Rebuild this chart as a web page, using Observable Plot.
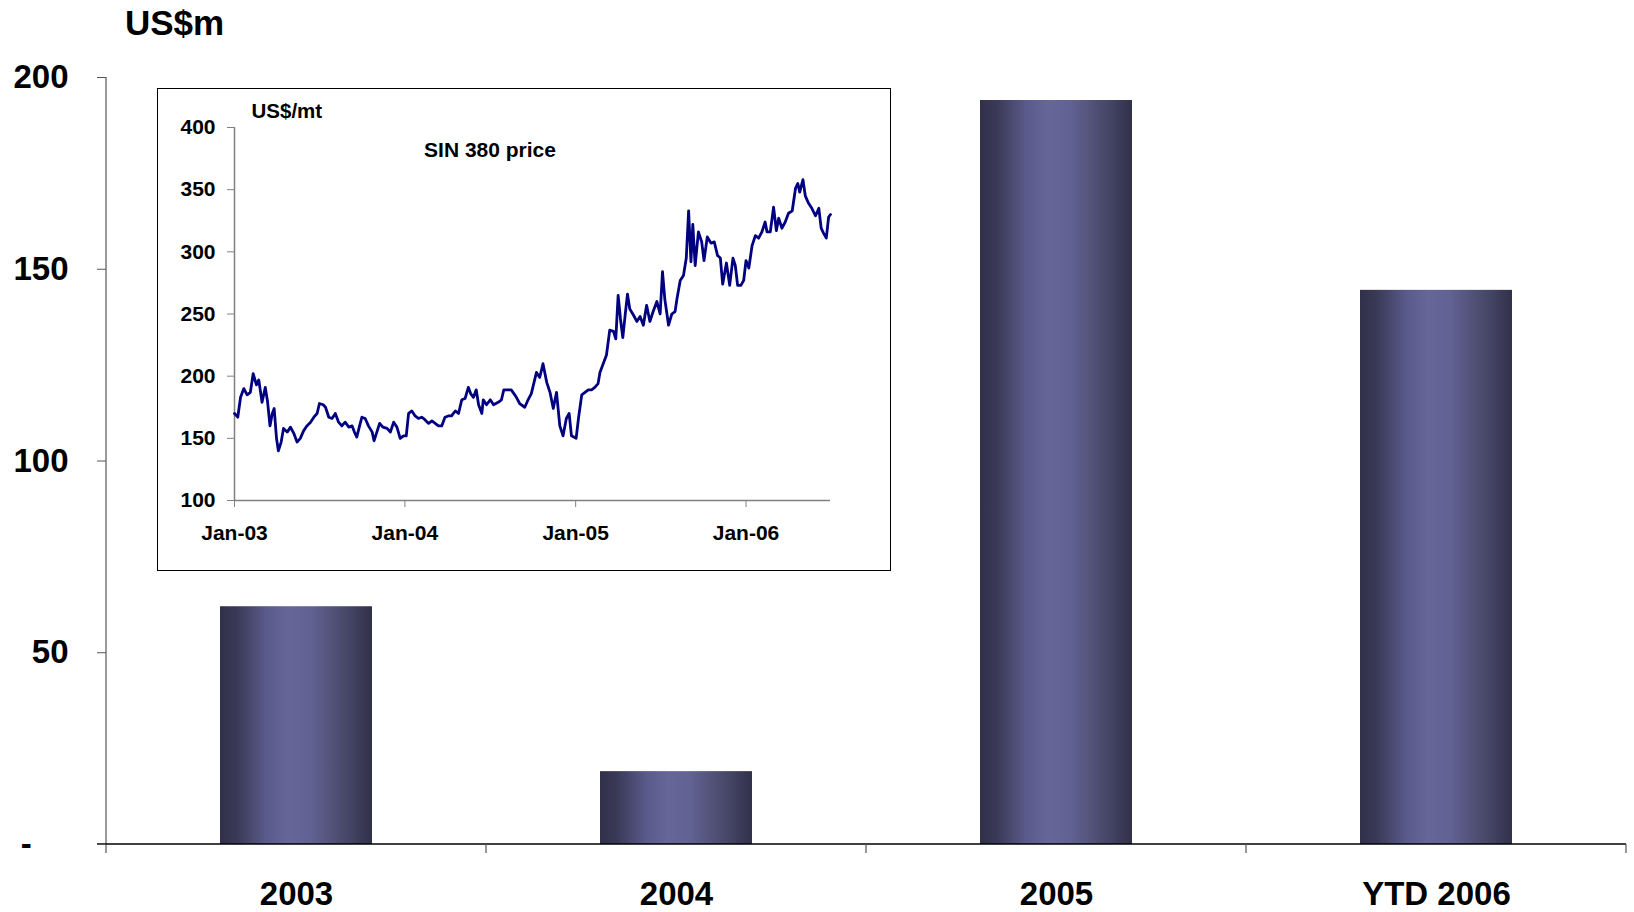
<!DOCTYPE html>
<html><head><meta charset="utf-8">
<script src="https://cdn.jsdelivr.net/npm/d3@7"></script>
<script src="https://cdn.jsdelivr.net/npm/@observablehq/plot@0.6"></script>
<style>
html,body{margin:0;padding:0;background:#fff;}
#wrap{position:relative;width:1634px;height:912px;font-family:"Liberation Sans",Arial,sans-serif;overflow:hidden;}
#main{position:absolute;left:0;top:0;}
#title{position:absolute;left:125px;top:5px;font-size:35px;font-weight:bold;line-height:1;color:#000;}
#inset{position:absolute;left:157px;top:88px;width:734px;height:483px;background:#fff;}
#insetBorder{position:absolute;left:0;top:0;right:0;bottom:0;border:1.5px solid #000;box-sizing:border-box;pointer-events:none;}
</style></head>
<body>
<svg width="0" height="0" style="position:absolute">
  <defs>
    <linearGradient id="barGrad" x1="0" x2="1" y1="0" y2="0">
      <stop offset="0" stop-color="#30304a"/>
      <stop offset="0.12" stop-color="#3b3b59"/>
      <stop offset="0.3" stop-color="#59598a"/>
      <stop offset="0.45" stop-color="#666699"/>
      <stop offset="0.6" stop-color="#616192"/>
      <stop offset="0.8" stop-color="#4b4b6e"/>
      <stop offset="1" stop-color="#31314b"/>
    </linearGradient>
  </defs>
</svg>
<div id="wrap">
  <div id="main"></div>
  <div id="title">US$m</div>
  <div id="inset"><div id="insetBorder"></div></div>
</div>
<script>
// ---- Main bar chart data ----
const categories = ["2003", "2004", "2005", "YTD 2006"];
const earnings = [62, 19, 194, 144.5];
const mainTicks = [0, 50, 100, 150, 200];

// ---- Inset: SIN 380 price (US$/mt) ----
const priceDates = [
  "2003-01-01","2003-01-08","2003-01-14","2003-01-21","2003-01-28","2003-02-04","2003-02-10","2003-02-17","2003-02-22","2003-03-01",
  "2003-03-08","2003-03-13","2003-03-18","2003-03-23","2003-03-27","2003-04-01","2003-04-05","2003-04-11","2003-04-16","2003-04-24",
  "2003-05-01","2003-05-08","2003-05-15","2003-05-22","2003-05-29","2003-06-05","2003-06-13","2003-06-20","2003-06-27","2003-07-02",
  "2003-07-10","2003-07-15","2003-07-22","2003-07-29","2003-08-05","2003-08-12","2003-08-19","2003-08-26","2003-09-03","2003-09-10",
  "2003-09-15","2003-09-20","2003-09-26","2003-10-01","2003-10-08","2003-10-15","2003-10-23","2003-10-27","2003-11-02","2003-11-08",
  "2003-11-15","2003-11-24","2003-12-01","2003-12-08","2003-12-15","2003-12-22","2003-12-29","2004-01-04","2004-01-09","2004-01-16",
  "2004-01-23","2004-01-30","2004-02-06","2004-02-13","2004-02-21","2004-02-28","2004-03-06","2004-03-13","2004-03-20","2004-03-27",
  "2004-04-03","2004-04-10","2004-04-18","2004-04-25","2004-05-02","2004-05-09","2004-05-16","2004-05-21","2004-05-27","2004-06-02",
  "2004-06-07","2004-06-14","2004-06-17","2004-06-24","2004-07-02","2004-07-09","2004-07-19","2004-07-26","2004-07-31","2004-08-06",
  "2004-08-16","2004-08-27","2004-09-03","2004-09-14","2004-09-21","2004-09-28","2004-10-09","2004-10-16","2004-10-23","2004-10-31",
  "2004-11-07","2004-11-14","2004-11-21","2004-11-28","2004-12-05","2004-12-12","2004-12-18","2004-12-23","2005-01-02","2005-01-07",
  "2005-01-14","2005-01-21","2005-01-28","2005-02-04","2005-02-11","2005-02-18","2005-02-22","2005-03-01","2005-03-08","2005-03-15",
  "2005-03-23","2005-03-28","2005-04-02","2005-04-07","2005-04-12","2005-04-17","2005-04-22","2005-04-27","2005-05-05","2005-05-12",
  "2005-05-19","2005-05-26","2005-06-02","2005-06-09","2005-06-16","2005-06-24","2005-07-01","2005-07-06","2005-07-11","2005-07-19",
  "2005-07-26","2005-08-02","2005-08-06","2005-08-13","2005-08-20","2005-08-26","2005-08-31","2005-09-05","2005-09-09","2005-09-14",
  "2005-09-21","2005-09-28","2005-10-03","2005-10-10","2005-10-18","2005-10-25","2005-11-01","2005-11-07","2005-11-12","2005-11-20",
  "2005-11-27","2005-12-04","2005-12-09","2005-12-14","2005-12-21","2005-12-27","2006-01-01","2006-01-07","2006-01-14","2006-01-21",
  "2006-01-28","2006-02-04","2006-02-11","2006-02-15","2006-02-22","2006-03-01","2006-03-07","2006-03-12","2006-03-19","2006-03-26",
  "2006-04-02","2006-04-10","2006-04-17","2006-04-22","2006-04-26","2006-05-03","2006-05-08","2006-05-15","2006-05-22","2006-05-30",
  "2006-06-06","2006-06-11","2006-06-16","2006-06-22","2006-06-27","2006-07-01"
];
const priceValues = [
  170,167,183,190,185,187,202,193,197,179,
  191,179,160,170,174,150,140,147,158,155,
  159,154,147,150,156,160,163,167,170,178,
  177,175,167,166,170,163,160,163,159,160,
  155,151,160,167,166,160,155,148,155,162,
  159,158,155,163,159,150,152,152,170,172,
  168,166,167,165,162,164,162,160,160,167,
  168,168,172,170,181,182,191,186,183,189,
  177,170,181,177,181,177,179,181,189,189,
  189,183,178,175,181,186,203,199,210,195,
  187,174,187,160,152,166,170,152,150,166,
  185,187,189,189,191,194,203,210,217,237,
  236,230,265,246,231,249,266,254,249,244,
  248,241,257,244,252,260,250,284,262,241,
  250,252,262,277,281,295,333,292,322,289,
  316,308,293,312,307,308,297,295,274,291,
  273,295,289,273,273,277,293,287,305,313,
  311,316,324,316,316,336,317,327,319,324,
  331,333,351,355,348,358,345,339,335,329,
  335,319,315,311,328,330
];
const insetYTicks = [100, 150, 200, 250, 300, 350, 400];
const insetXTicks = ["2003-01-01", "2004-01-01", "2005-01-01", "2006-01-01"];
const insetDomain = ["2003-01-01", "2006-07-01"];
const insetUnit = "US$/mt";
const insetTitle = "SIN 380 price";

const bars = categories.map((c, i) => ({category: c, value: earnings[i]}));
const prices = priceDates.map((d, i) => ({date: new Date(d), price: priceValues[i]}));

// Excel-style axis lines and category-boundary ticks
function mainFrame(index, scales, values, dims) {
  const {width, height, marginLeft, marginRight, marginTop, marginBottom} = dims;
  const g = d3.create("svg:g");
  const x0 = marginLeft, x1 = width - marginRight, yb = height - marginBottom;
  const n = categories.length, step = (x1 - x0) / n;
  g.append("line").attr("x1", x0).attr("x2", x0).attr("y1", marginTop).attr("y2", yb + 9)
    .attr("stroke", "#555").attr("stroke-width", 1.2);
  g.append("line").attr("x1", x0 - 9).attr("x2", x1).attr("y1", yb).attr("y2", yb)
    .attr("stroke", "#000").attr("stroke-width", 1.5);
  for (let k = 1; k <= n; k++) {
    g.append("line").attr("x1", x0 + k * step).attr("x2", x0 + k * step).attr("y1", yb).attr("y2", yb + 9)
      .attr("stroke", "#555").attr("stroke-width", 1.2);
  }
  return g.node();
}

const mainChart = Plot.plot({
  width: 1634,
  height: 912,
  marginLeft: 106,
  marginRight: 8,
  marginTop: 77,
  marginBottom: 68,
  style: {fontFamily: "'Liberation Sans', Arial, sans-serif", fontSize: "33px", fontWeight: "bold", color: "#000", background: "transparent", overflow: "visible"},
  x: {domain: categories, paddingInner: 0.6, paddingOuter: 0.3, label: null},
  y: {domain: [0, 200], label: null},
  marks: [
    Plot.barY(bars, {x: "category", y: "value", fill: "url(#barGrad)"}),
    mainFrame,
    Plot.axisY({ticks: mainTicks, tickSize: 9, tickPadding: 29, stroke: "#555",
      tickFormat: d => d === 0 ? "-\u2007\u2007" : String(d), label: null}),
    Plot.axisX({tickSize: 0, tickPadding: 37, fontSize: 33, label: null})
  ]
});
document.getElementById("main").appendChild(mainChart);

const insetChart = Plot.plot({
  width: 734,
  height: 483,
  marginLeft: 77,
  marginRight: 61,
  marginTop: 39,
  marginBottom: 71,
  style: {fontFamily: "'Liberation Sans', Arial, sans-serif", fontSize: "21px", fontWeight: "bold", color: "#000", background: "transparent", overflow: "visible"},
  x: {type: "utc", domain: insetDomain.map(d => new Date(d)), label: null},
  y: {domain: [100, 400], label: null},
  marks: [
    Plot.ruleY([100], {stroke: "#808080", strokeWidth: 1.5}),
    Plot.ruleX([new Date(insetDomain[0])], {stroke: "#808080", strokeWidth: 1.5}),
    Plot.axisY({ticks: insetYTicks, tickSize: 7, tickPadding: 12, stroke: "#808080", label: null}),
    Plot.axisX({ticks: insetXTicks.map(d => new Date(d)), tickSize: 7, tickPadding: 18, stroke: "#808080",
      tickFormat: d3.utcFormat("%b-%y"), label: null}),
    Plot.lineY(prices, {x: "date", y: "price", stroke: "#000080", strokeWidth: 2.8, strokeLinejoin: "round"}),
    Plot.text([insetUnit], {frameAnchor: "top-left", textAnchor: "start", dx: 17, dy: -24, fontSize: 20.5}),
    Plot.text([insetTitle], {frameAnchor: "top-left", textAnchor: "middle", dx: 255.5, dy: 15, fontSize: 21})
  ]
});
const insetDiv = document.getElementById("inset");
insetDiv.insertBefore(insetChart, insetDiv.firstChild);
</script>
</body></html>
